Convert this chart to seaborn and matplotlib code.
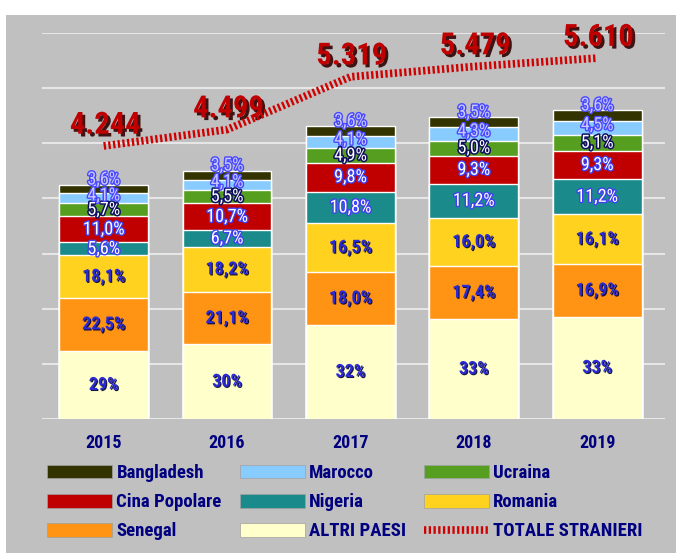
import numpy as np
import pandas as pd
import matplotlib
matplotlib.use('Agg')
import matplotlib.pyplot as plt
import matplotlib.patheffects as pe
from matplotlib import font_manager
from matplotlib.patches import Patch, Rectangle
from matplotlib.lines import Line2D
import seaborn as sns

# --- Dati ---
years = ['2015', '2016', '2017', '2018', '2019']
totale = [4244, 4499, 5319, 5479, 5610]

# quote percentuali per paese, dal basso verso l'alto
altri = [29, 30, 32, 33, 33]
senegal = [22.5, 21.1, 18.0, 17.4, 16.9]
romania = [18.1, 18.2, 16.5, 16.0, 16.1]
nigeria = [5.6, 6.7, 10.8, 11.2, 11.2]
cina = [11.0, 10.7, 9.8, 9.3, 9.3]
ucraina = [5.7, 5.5, 4.9, 5.0, 5.1]
marocco = [4.1, 4.1, 4.1, 4.3, 4.5]
bangladesh = [3.6, 3.5, 3.6, 3.5, 3.6]

order = ['ALTRI PAESI', 'Senegal', 'Romania', 'Nigeria', 'Cina Popolare',
         'Ucraina', 'Marocco', 'Bangladesh']
pct = pd.DataFrame({'ALTRI PAESI': altri, 'Senegal': senegal, 'Romania': romania,
                    'Nigeria': nigeria, 'Cina Popolare': cina, 'Ucraina': ucraina,
                    'Marocco': marocco, 'Bangladesh': bangladesh}, index=years)[order]

colors = {'Bangladesh': '#333300', 'Marocco': '#88CCFF', 'Ucraina': '#559E1F',
          'Cina Popolare': '#C00000', 'Nigeria': '#1A8A8A', 'Romania': '#FFD21F',
          'Senegal': '#FF9313', 'ALTRI PAESI': '#FFFFCC'}

# valori assoluti dei segmenti (quote riportate sul totale)
counts = pct.div(pct.sum(axis=1), axis=0).mul(totale, axis=0)
cum = counts.cumsum(axis=1)

# --- Stile ---
sns.set_style('white')
installed = {f.name for f in font_manager.fontManager.ttflist}
narrow = next((f for f in ['Liberation Sans Narrow', 'Roboto Condensed'] if f in installed), None)
if narrow:
    FONT = [narrow, 'Liberation Sans', 'DejaVu Sans']
    BIG, MID, LEG, TICK = 22, 13, 13.5, 13
else:
    FONT = ['Liberation Sans', 'DejaVu Sans']
    BIG, MID, LEG, TICK = 20, 12, 12, 11.5
plt.rcParams['font.family'] = FONT
BG = '#C0C0C0'
NAVY = '#000080'
LINE_STYLE = (0, (0.3, 0.32))

fig = plt.figure(figsize=(6.76, 5.53), dpi=100, facecolor='white')
fig.patches.append(Rectangle((6 / 676, 0), 1, (553 - 15) / 553,
                             transform=fig.transFigure, facecolor=BG,
                             edgecolor='none', zorder=-10))
ax = fig.add_axes([42 / 676, (553 - 419) / 553, (665 - 42) / 676, (419 - 33) / 553])
ax.set_facecolor(BG)

# barre impilate: si disegnano le cumulate dalla più alta alla più bassa
for name in reversed(order):
    sns.barplot(x=years, y=cum[name].values, color=colors[name], width=0.72,
                saturation=1, ax=ax, zorder=2)

ax.set_xlim(-0.5, 4.55)
ax.set_ylim(0, 7000)
ax.set_yticks(range(0, 7001, 1000))
ax.yaxis.grid(True, color='#E6E6E6', lw=1.5, zorder=0)
ax.set_axisbelow(True)
ax.set_xlabel('')
ax.set_ylabel('')
sns.despine(ax=ax, left=True, bottom=True)

# etichette percentuali
shadow = [pe.withSimplePatchShadow(offset=(0.8, -0.8), shadow_rgbFace='#000030', alpha=0.9)]
styles = {
    'ALTRI PAESI': dict(color='#2B2BD6', fontweight='bold', path_effects=shadow),
    'Senegal': dict(color='#2B2BD6', fontweight='bold', path_effects=shadow),
    'Romania': dict(color='#2B2BD6', fontweight='bold', path_effects=shadow),
    'Nigeria': dict(color='white', path_effects=[pe.withStroke(linewidth=2, foreground='#4040F0')]),
    'Cina Popolare': dict(color='white', path_effects=[pe.withStroke(linewidth=2, foreground='#4040F0')]),
    'Ucraina': dict(color='white', path_effects=[pe.withStroke(linewidth=2.2, foreground='#101060')]),
    'Marocco': dict(color='#C8C8FF', path_effects=[pe.withStroke(linewidth=2, foreground='#4848FF')]),
    'Bangladesh': dict(color='#C8C8FF', path_effects=[pe.withStroke(linewidth=2, foreground='#4848FF')]),
}
lift = {'Bangladesh': 7, 'Marocco': 2}
for name in order:
    for i in range(len(years)):
        v = pct[name].iloc[i]
        txt = f'{v:.0f}%' if name == 'ALTRI PAESI' else f'{v:.1f}%'.replace('.', ',')
        mid = cum[name].iloc[i] - counts[name].iloc[i] / 2
        ax.annotate(txt, (i, mid), xytext=(0, lift.get(name, 0)), textcoords='offset points',
                    ha='center', va='center', fontsize=MID, zorder=5, **styles[name])

# linea del totale stranieri su asse secondario
ax2 = ax.twinx()
ax2.set_ylim(0, 6000)
ax2.set_xlim(-0.5, 4.55)
sns.lineplot(x=np.arange(len(years)), y=totale, ax=ax2, color='#D00000', lw=5.5,
             linestyle=LINE_STYLE, zorder=4)
ax2.axis('off')
big_shadow = [pe.withSimplePatchShadow(offset=(2, -2), shadow_rgbFace='#300000', alpha=0.9)]
for i, t in enumerate(totale):
    ax2.annotate(f'{t:,}'.replace(',', '.'), (i, t), xytext=(1, 4.5), textcoords='offset points',
                 ha='center', va='bottom', fontsize=BIG, fontweight='bold', color='#C00000',
                 path_effects=big_shadow)

# twinx riattiva i tick a sinistra: li nascondo esplicitamente
ax.tick_params(axis='y', which='both', left=False, right=False, labelleft=False,
               length=0, width=0)
for tk in ax.yaxis.get_major_ticks():
    tk.tick1line.set_visible(False)
    tk.tick2line.set_visible(False)
ax.tick_params(axis='x', length=0, pad=11)
for lab in ax.get_xticklabels():
    lab.set_fontweight('bold')
    lab.set_color(NAVY)
    lab.set_fontsize(TICK)

# legenda su tre colonne posizionate a mano
columns = [['Bangladesh', 'Cina Popolare', 'Senegal'],
           ['Marocco', 'Nigeria', 'ALTRI PAESI'],
           ['Ucraina', 'Romania', 'TOTALE STRANIERI']]
col_x = [47, 240, 424]
for names, x0 in zip(columns, col_x):
    handles = []
    for n in names:
        if n == 'TOTALE STRANIERI':
            handles.append(Line2D([], [], color='#D00000', lw=5.5, linestyle=LINE_STYLE))
        else:
            handles.append(Patch(facecolor=colors[n], edgecolor='#A0A0A0', lw=0.5))
    leg = fig.legend(handles, names, loc='upper left',
                     bbox_to_anchor=(x0 / 676, (553 - 464) / 553), frameon=False,
                     borderpad=0, borderaxespad=0, handlelength=3.45, handleheight=0.75,
                     handletextpad=0.25, labelspacing=0.6,
                     prop={'weight': 'bold', 'size': LEG, 'family': FONT})
    for t in leg.get_texts():
        t.set_color(NAVY)

fig.savefig('out.png', dpi=100, facecolor=fig.get_facecolor())
